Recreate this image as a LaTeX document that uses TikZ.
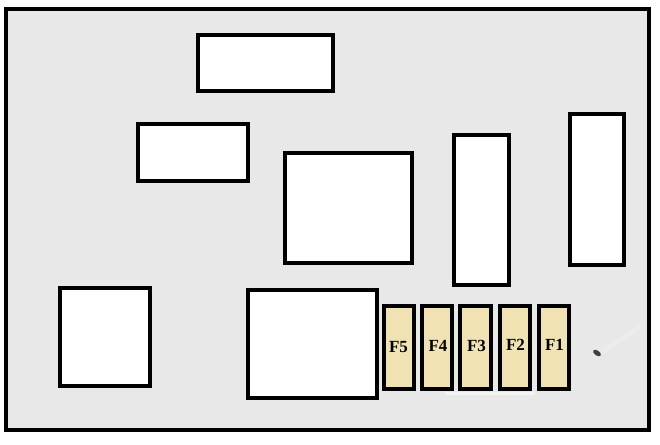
\documentclass[tikz,border=0pt]{standalone}
\usepackage{fontspec}
\setmainfont{Liberation Serif}
\definecolor{panel}{HTML}{E8E8E8}
\definecolor{fuse}{HTML}{F0E2B2}
\tikzset{
  x=1pt,y=-1pt,
  panelbox/.style={draw=black,line width=4pt,fill=panel,sharp corners},
  slot/.style={draw=black,line width=4pt,fill=white,inner sep=0pt,outer sep=0pt,minimum width=#1},
  slot/.default=10pt,
  fusebox/.style={draw=black,line width=4pt,fill=fuse,inner sep=0pt,outer sep=0pt,minimum width=30pt,minimum height=83pt},
  fuselabel/.style={font=\bfseries\fontsize{17}{18}\selectfont,text=black,inner sep=0pt},
}
\begin{document}
\begin{tikzpicture}
\useasboundingbox (0,0) rectangle (660,444);
\fill[white] (0,0) rectangle (660,444);
\draw[panelbox] (6,9) rectangle (649,430);
% scuffs near the fuses
\fill[white,opacity=.5] (445,392) rectangle (535,395);
\fill[white,opacity=.2] (600,350) -- (640,325) -- (642,328) -- (604,354) -- cycle;
% plain slots
\node[slot=135pt,minimum height=56.5pt] (a) at (265.5,63.2) {};
\node[slot=110pt,minimum height=57.5pt] (b) at (193,152.7) {};
\node[slot=127pt,minimum height=110pt] (c) at (348.5,208) {};
\node[slot=55pt,minimum height=150pt] (d) at (481.5,210) {};
\node[slot=54pt,minimum height=151pt] (e) at (597,189.5) {};
\node[slot=90pt,minimum height=98pt] (f) at (105,337) {};
\node[slot=129pt,minimum height=108pt] (g) at (312.5,344) {};
% fuses
\node[fusebox] (f5) at (399,347.5) {};
\node[fusebox] (f4) at (437,347.5) {};
\node[fusebox,minimum width=31pt] (f3) at (475.5,347.5) {};
\node[fusebox] (f2) at (515,347.5) {};
\node[fusebox] (f1) at (554,347.5) {};
\node[fuselabel] (l5) at (398.5,347) {F5};
\node[fuselabel] (l4) at (438,345.5) {F4};
\node[fuselabel] (l3) at (476.5,345.5) {F3};
\node[fuselabel] (l2) at (515.5,344.5) {F2};
\node[fuselabel] (l1) at (554.5,344.5) {F1};
% smudge
\fill[black!75,rotate around={-35:(597,353)}] (597,353) ellipse (4.5pt and 2.5pt);
\end{tikzpicture}
\end{document}
